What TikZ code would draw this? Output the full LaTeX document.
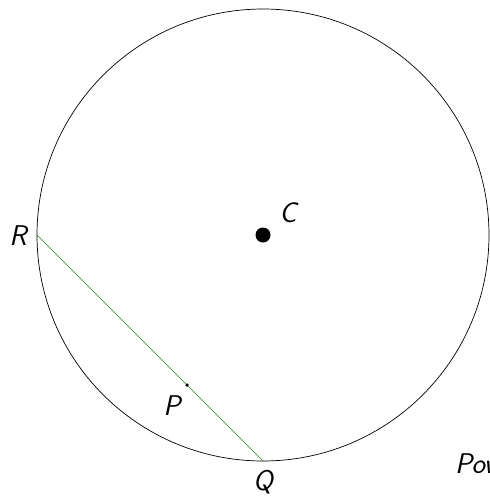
\documentclass[tikz,border=0pt]{standalone}
\usetikzlibrary{calc}
\tikzset{
  lbl/.style={font=\fontsize{28.5}{34}\selectfont\sffamily\slshape, inner sep=0pt},
  chord/.style={draw={rgb,255:red,30;green,140;blue,30}, line width=0.7pt},
}
\begin{document}
\begin{tikzpicture}[x=1pt,y=-1pt]
\useasboundingbox (0,0) rectangle (490,496);
\clip (0,0) rectangle (490,496);
\coordinate (C) at (263,235);
\coordinate (R) at (37,235);
\coordinate (Q) at (263,461);
\coordinate (P) at ($(R)!0.664!(Q)$);
\draw[line width=0.7pt] (C) circle (226);
\draw[chord] (R) -- (Q);
\fill (C) circle (7.5);
\fill (P) circle (1.8);
\node[lbl] (lC) at (288,213) {C};
\node[lbl] (lR) at (18,236) {R};
\node[lbl] (lP) at (172,406) {P};
\node[lbl, anchor=base] (lQ) at (263,490) {Q};
\node[lbl, anchor=base west] (lPow) at (455,473) {Power};
\end{tikzpicture}
\end{document}
